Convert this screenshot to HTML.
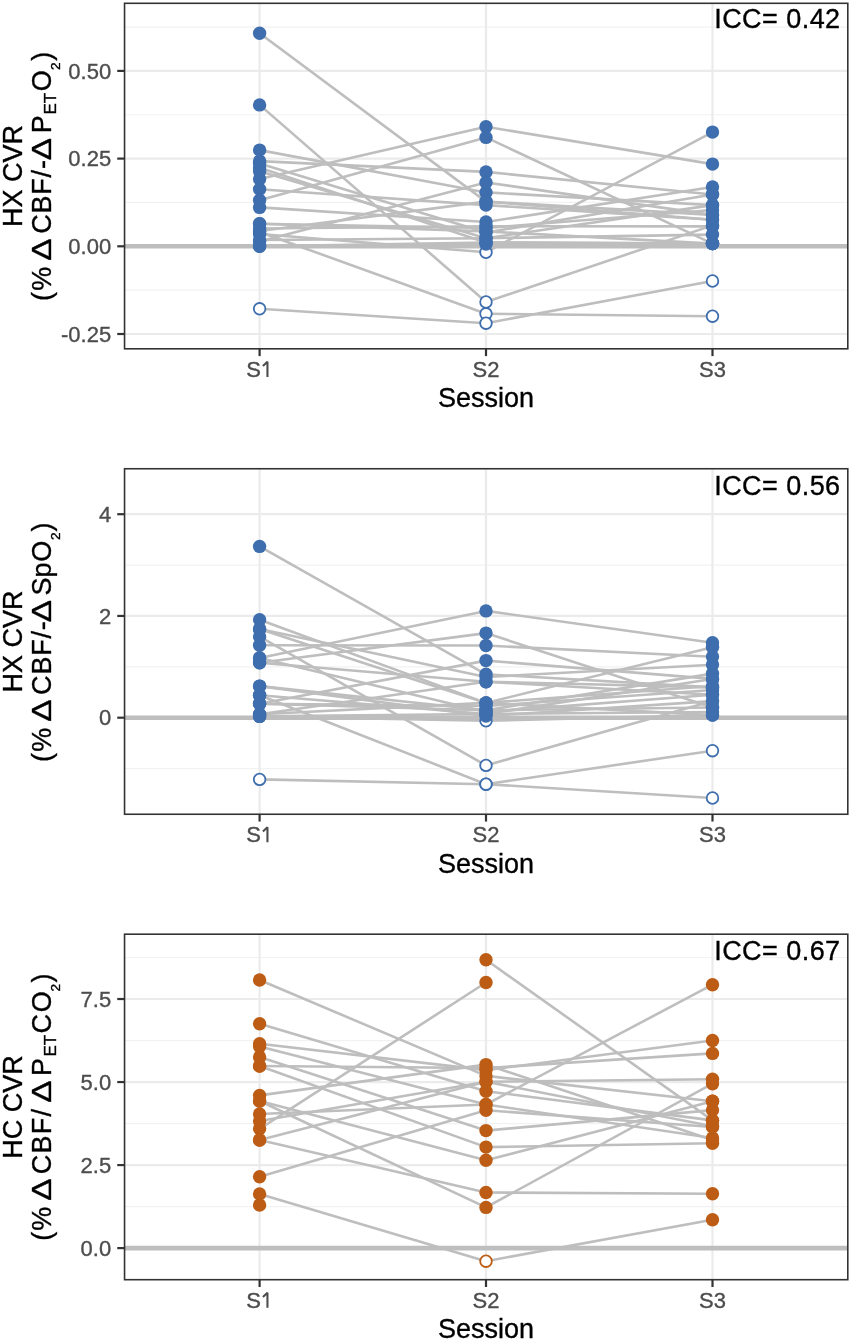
<!DOCTYPE html><html><head><meta charset="utf-8"><style>html,body{margin:0;padding:0;background:#fff;overflow:hidden}svg{display:block;will-change:transform}</style></head><body>
<svg width="851" height="1341" viewBox="0 0 851 1341" font-family='"Liberation Sans", sans-serif'>
<style>text{stroke-width:0.35px}</style>
<rect x="0" y="0" width="851" height="1341" fill="#fff"/>
<g>
<line x1="124.55" x2="847.8" y1="27.05" y2="27.05" stroke="#F2F2F2" stroke-width="1.2"/>
<line x1="124.55" x2="847.8" y1="114.75" y2="114.75" stroke="#F2F2F2" stroke-width="1.2"/>
<line x1="124.55" x2="847.8" y1="202.45" y2="202.45" stroke="#F2F2F2" stroke-width="1.2"/>
<line x1="124.55" x2="847.8" y1="290.15" y2="290.15" stroke="#F2F2F2" stroke-width="1.2"/>
<line x1="124.55" x2="847.8" y1="70.90" y2="70.90" stroke="#EBEBEB" stroke-width="2.2"/>
<line x1="124.55" x2="847.8" y1="158.60" y2="158.60" stroke="#EBEBEB" stroke-width="2.2"/>
<line x1="124.55" x2="847.8" y1="246.30" y2="246.30" stroke="#EBEBEB" stroke-width="2.2"/>
<line x1="124.55" x2="847.8" y1="334.00" y2="334.00" stroke="#EBEBEB" stroke-width="2.2"/>
<line x1="259.6" x2="259.6" y1="3.3" y2="348.8" stroke="#EBEBEB" stroke-width="2.2"/>
<line x1="486.0" x2="486.0" y1="3.3" y2="348.8" stroke="#EBEBEB" stroke-width="2.2"/>
<line x1="712.5" x2="712.5" y1="3.3" y2="348.8" stroke="#EBEBEB" stroke-width="2.2"/>
<line x1="124.55" x2="847.8" y1="246.30" y2="246.30" stroke="#BEBEBE" stroke-width="4.6"/>
<line x1="259.6" y1="33.19" x2="486.0" y2="201.61" stroke="#BEBEBE" stroke-width="2.6"/>
<line x1="486.0" y1="201.61" x2="712.5" y2="214.90" stroke="#BEBEBE" stroke-width="2.6"/>
<line x1="259.6" y1="104.89" x2="486.0" y2="302.01" stroke="#BEBEBE" stroke-width="2.6"/>
<line x1="486.0" y1="302.01" x2="712.5" y2="225.39" stroke="#BEBEBE" stroke-width="2.6"/>
<line x1="259.6" y1="150.11" x2="486.0" y2="192.42" stroke="#BEBEBE" stroke-width="2.6"/>
<line x1="486.0" y1="192.42" x2="712.5" y2="205.12" stroke="#BEBEBE" stroke-width="2.6"/>
<line x1="259.6" y1="161.09" x2="486.0" y2="171.90" stroke="#BEBEBE" stroke-width="2.6"/>
<line x1="486.0" y1="171.90" x2="712.5" y2="194.42" stroke="#BEBEBE" stroke-width="2.6"/>
<line x1="259.6" y1="163.51" x2="486.0" y2="232.58" stroke="#BEBEBE" stroke-width="2.6"/>
<line x1="486.0" y1="232.58" x2="712.5" y2="194.42" stroke="#BEBEBE" stroke-width="2.6"/>
<line x1="259.6" y1="167.69" x2="486.0" y2="242.51" stroke="#BEBEBE" stroke-width="2.6"/>
<line x1="486.0" y1="242.51" x2="712.5" y2="243.60" stroke="#BEBEBE" stroke-width="2.6"/>
<line x1="259.6" y1="171.30" x2="486.0" y2="238.20" stroke="#BEBEBE" stroke-width="2.6"/>
<line x1="486.0" y1="238.20" x2="712.5" y2="205.12" stroke="#BEBEBE" stroke-width="2.6"/>
<line x1="259.6" y1="178.91" x2="486.0" y2="126.82" stroke="#BEBEBE" stroke-width="2.6"/>
<line x1="486.0" y1="126.82" x2="712.5" y2="164.11" stroke="#BEBEBE" stroke-width="2.6"/>
<line x1="259.6" y1="189.30" x2="486.0" y2="205.12" stroke="#BEBEBE" stroke-width="2.6"/>
<line x1="486.0" y1="205.12" x2="712.5" y2="219.81" stroke="#BEBEBE" stroke-width="2.6"/>
<line x1="259.6" y1="200.31" x2="486.0" y2="137.41" stroke="#BEBEBE" stroke-width="2.6"/>
<line x1="486.0" y1="137.41" x2="712.5" y2="243.60" stroke="#BEBEBE" stroke-width="2.6"/>
<line x1="259.6" y1="207.40" x2="486.0" y2="221.99" stroke="#BEBEBE" stroke-width="2.6"/>
<line x1="486.0" y1="221.99" x2="712.5" y2="187.01" stroke="#BEBEBE" stroke-width="2.6"/>
<line x1="259.6" y1="223.71" x2="486.0" y2="227.99" stroke="#BEBEBE" stroke-width="2.6"/>
<line x1="486.0" y1="227.99" x2="712.5" y2="209.99" stroke="#BEBEBE" stroke-width="2.6"/>
<line x1="259.6" y1="231.01" x2="486.0" y2="201.61" stroke="#BEBEBE" stroke-width="2.6"/>
<line x1="486.0" y1="201.61" x2="712.5" y2="219.81" stroke="#BEBEBE" stroke-width="2.6"/>
<line x1="259.6" y1="231.99" x2="486.0" y2="313.79" stroke="#BEBEBE" stroke-width="2.6"/>
<line x1="486.0" y1="313.79" x2="712.5" y2="316.21" stroke="#BEBEBE" stroke-width="2.6"/>
<line x1="259.6" y1="241.49" x2="486.0" y2="182.49" stroke="#BEBEBE" stroke-width="2.6"/>
<line x1="486.0" y1="182.49" x2="712.5" y2="214.90" stroke="#BEBEBE" stroke-width="2.6"/>
<line x1="259.6" y1="246.19" x2="486.0" y2="242.51" stroke="#BEBEBE" stroke-width="2.6"/>
<line x1="486.0" y1="242.51" x2="712.5" y2="243.60" stroke="#BEBEBE" stroke-width="2.6"/>
<line x1="259.6" y1="308.81" x2="486.0" y2="323.20" stroke="#BEBEBE" stroke-width="2.6"/>
<line x1="486.0" y1="323.20" x2="712.5" y2="280.99" stroke="#BEBEBE" stroke-width="2.6"/>
<line x1="259.6" y1="233.99" x2="486.0" y2="252.30" stroke="#BEBEBE" stroke-width="2.6"/>
<line x1="486.0" y1="252.30" x2="712.5" y2="132.11" stroke="#BEBEBE" stroke-width="2.6"/>
<line x1="259.6" y1="228.51" x2="486.0" y2="226.20" stroke="#BEBEBE" stroke-width="2.6"/>
<line x1="486.0" y1="226.20" x2="712.5" y2="226.41" stroke="#BEBEBE" stroke-width="2.6"/>
<line x1="259.6" y1="239.99" x2="486.0" y2="238.20" stroke="#BEBEBE" stroke-width="2.6"/>
<line x1="486.0" y1="238.20" x2="712.5" y2="234.58" stroke="#BEBEBE" stroke-width="2.6"/>
<line x1="259.6" y1="223.71" x2="486.0" y2="231.39" stroke="#BEBEBE" stroke-width="2.6"/>
<line x1="486.0" y1="231.39" x2="712.5" y2="243.60" stroke="#BEBEBE" stroke-width="2.6"/>
<line x1="259.6" y1="246.19" x2="486.0" y2="243.98" stroke="#BEBEBE" stroke-width="2.6"/>
<line x1="486.0" y1="243.98" x2="712.5" y2="243.60" stroke="#BEBEBE" stroke-width="2.6"/>
<circle cx="259.6" cy="33.19" r="6.7" fill="#3E6EAD"/>
<circle cx="486.0" cy="201.61" r="6.7" fill="#3E6EAD"/>
<circle cx="712.5" cy="214.90" r="6.7" fill="#3E6EAD"/>
<circle cx="259.6" cy="104.89" r="6.7" fill="#3E6EAD"/>
<circle cx="486.0" cy="302.01" r="5.8" fill="#fff" stroke="#3E6EAD" stroke-width="1.8"/>
<circle cx="712.5" cy="225.39" r="6.7" fill="#3E6EAD"/>
<circle cx="259.6" cy="150.11" r="6.7" fill="#3E6EAD"/>
<circle cx="486.0" cy="192.42" r="6.7" fill="#3E6EAD"/>
<circle cx="712.5" cy="205.12" r="6.7" fill="#3E6EAD"/>
<circle cx="259.6" cy="161.09" r="6.7" fill="#3E6EAD"/>
<circle cx="486.0" cy="171.90" r="6.7" fill="#3E6EAD"/>
<circle cx="712.5" cy="194.42" r="6.7" fill="#3E6EAD"/>
<circle cx="259.6" cy="163.51" r="6.7" fill="#3E6EAD"/>
<circle cx="486.0" cy="232.58" r="6.7" fill="#3E6EAD"/>
<circle cx="712.5" cy="194.42" r="6.7" fill="#3E6EAD"/>
<circle cx="259.6" cy="167.69" r="6.7" fill="#3E6EAD"/>
<circle cx="486.0" cy="242.51" r="6.7" fill="#3E6EAD"/>
<circle cx="712.5" cy="243.60" r="6.7" fill="#3E6EAD"/>
<circle cx="259.6" cy="171.30" r="6.7" fill="#3E6EAD"/>
<circle cx="486.0" cy="238.20" r="6.7" fill="#3E6EAD"/>
<circle cx="712.5" cy="205.12" r="6.7" fill="#3E6EAD"/>
<circle cx="259.6" cy="178.91" r="6.7" fill="#3E6EAD"/>
<circle cx="486.0" cy="126.82" r="6.7" fill="#3E6EAD"/>
<circle cx="712.5" cy="164.11" r="6.7" fill="#3E6EAD"/>
<circle cx="259.6" cy="189.30" r="6.7" fill="#3E6EAD"/>
<circle cx="486.0" cy="205.12" r="6.7" fill="#3E6EAD"/>
<circle cx="712.5" cy="219.81" r="6.7" fill="#3E6EAD"/>
<circle cx="259.6" cy="200.31" r="6.7" fill="#3E6EAD"/>
<circle cx="486.0" cy="137.41" r="6.7" fill="#3E6EAD"/>
<circle cx="712.5" cy="243.60" r="6.7" fill="#3E6EAD"/>
<circle cx="259.6" cy="207.40" r="6.7" fill="#3E6EAD"/>
<circle cx="486.0" cy="221.99" r="6.7" fill="#3E6EAD"/>
<circle cx="712.5" cy="187.01" r="6.7" fill="#3E6EAD"/>
<circle cx="259.6" cy="223.71" r="6.7" fill="#3E6EAD"/>
<circle cx="486.0" cy="227.99" r="6.7" fill="#3E6EAD"/>
<circle cx="712.5" cy="209.99" r="6.7" fill="#3E6EAD"/>
<circle cx="259.6" cy="231.01" r="6.7" fill="#3E6EAD"/>
<circle cx="486.0" cy="201.61" r="6.7" fill="#3E6EAD"/>
<circle cx="712.5" cy="219.81" r="6.7" fill="#3E6EAD"/>
<circle cx="259.6" cy="231.99" r="6.7" fill="#3E6EAD"/>
<circle cx="486.0" cy="313.79" r="5.8" fill="#fff" stroke="#3E6EAD" stroke-width="1.8"/>
<circle cx="712.5" cy="316.21" r="5.8" fill="#fff" stroke="#3E6EAD" stroke-width="1.8"/>
<circle cx="259.6" cy="241.49" r="6.7" fill="#3E6EAD"/>
<circle cx="486.0" cy="182.49" r="6.7" fill="#3E6EAD"/>
<circle cx="712.5" cy="214.90" r="6.7" fill="#3E6EAD"/>
<circle cx="259.6" cy="246.19" r="6.7" fill="#3E6EAD"/>
<circle cx="486.0" cy="242.51" r="6.7" fill="#3E6EAD"/>
<circle cx="712.5" cy="243.60" r="6.7" fill="#3E6EAD"/>
<circle cx="259.6" cy="308.81" r="5.8" fill="#fff" stroke="#3E6EAD" stroke-width="1.8"/>
<circle cx="486.0" cy="323.20" r="5.8" fill="#fff" stroke="#3E6EAD" stroke-width="1.8"/>
<circle cx="712.5" cy="280.99" r="5.8" fill="#fff" stroke="#3E6EAD" stroke-width="1.8"/>
<circle cx="259.6" cy="233.99" r="6.7" fill="#3E6EAD"/>
<circle cx="486.0" cy="252.30" r="5.8" fill="#fff" stroke="#3E6EAD" stroke-width="1.8"/>
<circle cx="712.5" cy="132.11" r="6.7" fill="#3E6EAD"/>
<circle cx="259.6" cy="228.51" r="6.7" fill="#3E6EAD"/>
<circle cx="486.0" cy="226.20" r="6.7" fill="#3E6EAD"/>
<circle cx="712.5" cy="226.41" r="6.7" fill="#3E6EAD"/>
<circle cx="259.6" cy="239.99" r="6.7" fill="#3E6EAD"/>
<circle cx="486.0" cy="238.20" r="6.7" fill="#3E6EAD"/>
<circle cx="712.5" cy="234.58" r="6.7" fill="#3E6EAD"/>
<circle cx="259.6" cy="223.71" r="6.7" fill="#3E6EAD"/>
<circle cx="486.0" cy="231.39" r="6.7" fill="#3E6EAD"/>
<circle cx="712.5" cy="243.60" r="6.7" fill="#3E6EAD"/>
<circle cx="259.6" cy="246.19" r="6.7" fill="#3E6EAD"/>
<circle cx="486.0" cy="243.98" r="6.7" fill="#3E6EAD"/>
<circle cx="712.5" cy="243.60" r="6.7" fill="#3E6EAD"/>
<rect x="124.55" y="3.3" width="723.25" height="345.50" fill="none" stroke="#333" stroke-width="1.6"/>
<line x1="117.25" x2="124.55" y1="70.90" y2="70.90" stroke="#333" stroke-width="2.2"/>
<text x="111.2" y="78.50" font-size="22" fill="#4D4D4D" stroke="#4D4D4D" text-anchor="end">0.50</text>
<line x1="117.25" x2="124.55" y1="158.60" y2="158.60" stroke="#333" stroke-width="2.2"/>
<text x="111.2" y="166.20" font-size="22" fill="#4D4D4D" stroke="#4D4D4D" text-anchor="end">0.25</text>
<line x1="117.25" x2="124.55" y1="246.30" y2="246.30" stroke="#333" stroke-width="2.2"/>
<text x="111.2" y="253.90" font-size="22" fill="#4D4D4D" stroke="#4D4D4D" text-anchor="end">0.00</text>
<line x1="117.25" x2="124.55" y1="334.00" y2="334.00" stroke="#333" stroke-width="2.2"/>
<text x="111.2" y="341.60" font-size="22" fill="#4D4D4D" stroke="#4D4D4D" text-anchor="end">-0.25</text>
<line x1="259.6" x2="259.6" y1="348.8" y2="356.10" stroke="#333" stroke-width="2.2"/>
<text x="246.2" y="376.60" font-size="22" fill="#4D4D4D" stroke="#4D4D4D">S</text>
<path d="M267.45 376.90 V361.80 L262.9 366.00" stroke="#4D4D4D" stroke-width="2.1" fill="none" stroke-linejoin="bevel"/>
<line x1="486.0" x2="486.0" y1="348.8" y2="356.10" stroke="#333" stroke-width="2.2"/>
<text x="486.0" y="376.60" font-size="22" fill="#4D4D4D" stroke="#4D4D4D" text-anchor="middle">S2</text>
<line x1="712.5" x2="712.5" y1="348.8" y2="356.10" stroke="#333" stroke-width="2.2"/>
<text x="712.5" y="376.60" font-size="22" fill="#4D4D4D" stroke="#4D4D4D" text-anchor="middle">S3</text>
<text x="486" y="407.30" font-size="27" fill="#000" stroke="#000" text-anchor="middle">Session</text>
<text x="840.6" y="28.40" font-size="27" fill="#000" stroke="#000" text-anchor="end" letter-spacing="0.45">ICC= 0.42</text>
<text transform="translate(22.3,176.05) rotate(-90)" font-size="27" stroke="#000" text-anchor="middle">HX CVR</text>
<text transform="translate(51.0,301.00) rotate(-90)" font-size="27" stroke="#000">(</text>
<text transform="translate(51.0,290.80) rotate(-90)" font-size="27" stroke="#000">%</text>
<text transform="translate(51.0,260.83) rotate(-90) scale(1.23,1)" font-size="27" stroke="#000">Δ</text>
<text transform="translate(51.0,233.80) rotate(-90)" font-size="27" stroke="#000" letter-spacing="0.8">CBF/-</text>
<text transform="translate(51.0,160.23) rotate(-90) scale(1.23,1)" font-size="27" stroke="#000">Δ</text>
<text transform="translate(51.0,133.30) rotate(-90)" font-size="27" stroke="#000">P</text>
<text transform="translate(56.0,114.60) rotate(-90)" font-size="17" stroke="#000">ET</text>
<text transform="translate(51.0,91.30) rotate(-90)" font-size="27" stroke="#000">O</text>
<text transform="translate(60.0,70.10) rotate(-90)" font-size="13.7" stroke="#000">2</text>
<text transform="translate(51.0,60.80) rotate(-90)" font-size="27" stroke="#000">)</text>
</g>
<g>
<line x1="124.55" x2="847.8" y1="565.08" y2="565.08" stroke="#F2F2F2" stroke-width="1.2"/>
<line x1="124.55" x2="847.8" y1="666.83" y2="666.83" stroke="#F2F2F2" stroke-width="1.2"/>
<line x1="124.55" x2="847.8" y1="768.58" y2="768.58" stroke="#F2F2F2" stroke-width="1.2"/>
<line x1="124.55" x2="847.8" y1="514.20" y2="514.20" stroke="#EBEBEB" stroke-width="2.2"/>
<line x1="124.55" x2="847.8" y1="615.95" y2="615.95" stroke="#EBEBEB" stroke-width="2.2"/>
<line x1="124.55" x2="847.8" y1="717.70" y2="717.70" stroke="#EBEBEB" stroke-width="2.2"/>
<line x1="259.6" x2="259.6" y1="468.75" y2="814.25" stroke="#EBEBEB" stroke-width="2.2"/>
<line x1="486.0" x2="486.0" y1="468.75" y2="814.25" stroke="#EBEBEB" stroke-width="2.2"/>
<line x1="712.5" x2="712.5" y1="468.75" y2="814.25" stroke="#EBEBEB" stroke-width="2.2"/>
<line x1="124.55" x2="847.8" y1="717.70" y2="717.70" stroke="#BEBEBE" stroke-width="4.6"/>
<line x1="259.6" y1="546.40" x2="486.0" y2="674.30" stroke="#BEBEBE" stroke-width="2.6"/>
<line x1="486.0" y1="674.30" x2="712.5" y2="687.40" stroke="#BEBEBE" stroke-width="2.6"/>
<line x1="259.6" y1="657.90" x2="486.0" y2="610.90" stroke="#BEBEBE" stroke-width="2.6"/>
<line x1="486.0" y1="610.90" x2="712.5" y2="642.80" stroke="#BEBEBE" stroke-width="2.6"/>
<line x1="259.6" y1="662.80" x2="486.0" y2="633.10" stroke="#BEBEBE" stroke-width="2.6"/>
<line x1="486.0" y1="633.10" x2="712.5" y2="707.50" stroke="#BEBEBE" stroke-width="2.6"/>
<line x1="259.6" y1="645.20" x2="486.0" y2="645.50" stroke="#BEBEBE" stroke-width="2.6"/>
<line x1="486.0" y1="645.50" x2="712.5" y2="656.70" stroke="#BEBEBE" stroke-width="2.6"/>
<line x1="259.6" y1="703.70" x2="486.0" y2="660.60" stroke="#BEBEBE" stroke-width="2.6"/>
<line x1="486.0" y1="660.60" x2="712.5" y2="678.90" stroke="#BEBEBE" stroke-width="2.6"/>
<line x1="259.6" y1="629.00" x2="486.0" y2="677.00" stroke="#BEBEBE" stroke-width="2.6"/>
<line x1="486.0" y1="677.00" x2="712.5" y2="664.70" stroke="#BEBEBE" stroke-width="2.6"/>
<line x1="259.6" y1="662.80" x2="486.0" y2="681.70" stroke="#BEBEBE" stroke-width="2.6"/>
<line x1="486.0" y1="681.70" x2="712.5" y2="694.80" stroke="#BEBEBE" stroke-width="2.6"/>
<line x1="259.6" y1="714.30" x2="486.0" y2="681.70" stroke="#BEBEBE" stroke-width="2.6"/>
<line x1="486.0" y1="681.70" x2="712.5" y2="687.40" stroke="#BEBEBE" stroke-width="2.6"/>
<line x1="259.6" y1="636.70" x2="486.0" y2="765.40" stroke="#BEBEBE" stroke-width="2.6"/>
<line x1="486.0" y1="765.40" x2="712.5" y2="701.10" stroke="#BEBEBE" stroke-width="2.6"/>
<line x1="259.6" y1="695.30" x2="486.0" y2="784.20" stroke="#BEBEBE" stroke-width="2.6"/>
<line x1="486.0" y1="784.20" x2="712.5" y2="750.70" stroke="#BEBEBE" stroke-width="2.6"/>
<line x1="259.6" y1="779.40" x2="486.0" y2="784.20" stroke="#BEBEBE" stroke-width="2.6"/>
<line x1="486.0" y1="784.20" x2="712.5" y2="798.00" stroke="#BEBEBE" stroke-width="2.6"/>
<line x1="259.6" y1="619.80" x2="486.0" y2="702.90" stroke="#BEBEBE" stroke-width="2.6"/>
<line x1="486.0" y1="702.90" x2="712.5" y2="715.10" stroke="#BEBEBE" stroke-width="2.6"/>
<line x1="259.6" y1="686.10" x2="486.0" y2="710.30" stroke="#BEBEBE" stroke-width="2.6"/>
<line x1="486.0" y1="710.30" x2="712.5" y2="673.60" stroke="#BEBEBE" stroke-width="2.6"/>
<line x1="259.6" y1="716.40" x2="486.0" y2="720.80" stroke="#BEBEBE" stroke-width="2.6"/>
<line x1="486.0" y1="720.80" x2="712.5" y2="715.10" stroke="#BEBEBE" stroke-width="2.6"/>
<line x1="259.6" y1="714.30" x2="486.0" y2="702.90" stroke="#BEBEBE" stroke-width="2.6"/>
<line x1="486.0" y1="702.90" x2="712.5" y2="647.20" stroke="#BEBEBE" stroke-width="2.6"/>
<line x1="259.6" y1="703.70" x2="486.0" y2="710.30" stroke="#BEBEBE" stroke-width="2.6"/>
<line x1="486.0" y1="710.30" x2="712.5" y2="707.50" stroke="#BEBEBE" stroke-width="2.6"/>
<line x1="259.6" y1="716.40" x2="486.0" y2="714.00" stroke="#BEBEBE" stroke-width="2.6"/>
<line x1="486.0" y1="714.00" x2="712.5" y2="712.00" stroke="#BEBEBE" stroke-width="2.6"/>
<line x1="259.6" y1="703.70" x2="486.0" y2="706.00" stroke="#BEBEBE" stroke-width="2.6"/>
<line x1="486.0" y1="706.00" x2="712.5" y2="690.00" stroke="#BEBEBE" stroke-width="2.6"/>
<line x1="259.6" y1="695.30" x2="486.0" y2="714.00" stroke="#BEBEBE" stroke-width="2.6"/>
<line x1="486.0" y1="714.00" x2="712.5" y2="679.00" stroke="#BEBEBE" stroke-width="2.6"/>
<line x1="259.6" y1="686.10" x2="486.0" y2="716.00" stroke="#BEBEBE" stroke-width="2.6"/>
<line x1="486.0" y1="716.00" x2="712.5" y2="701.10" stroke="#BEBEBE" stroke-width="2.6"/>
<line x1="259.6" y1="657.90" x2="486.0" y2="712.00" stroke="#BEBEBE" stroke-width="2.6"/>
<line x1="486.0" y1="712.00" x2="712.5" y2="694.80" stroke="#BEBEBE" stroke-width="2.6"/>
<line x1="259.6" y1="629.00" x2="486.0" y2="702.90" stroke="#BEBEBE" stroke-width="2.6"/>
<line x1="486.0" y1="702.90" x2="712.5" y2="686.00" stroke="#BEBEBE" stroke-width="2.6"/>
<circle cx="259.6" cy="546.40" r="6.7" fill="#3E6EAD"/>
<circle cx="486.0" cy="674.30" r="6.7" fill="#3E6EAD"/>
<circle cx="712.5" cy="687.40" r="6.7" fill="#3E6EAD"/>
<circle cx="259.6" cy="657.90" r="6.7" fill="#3E6EAD"/>
<circle cx="486.0" cy="610.90" r="6.7" fill="#3E6EAD"/>
<circle cx="712.5" cy="642.80" r="6.7" fill="#3E6EAD"/>
<circle cx="259.6" cy="662.80" r="6.7" fill="#3E6EAD"/>
<circle cx="486.0" cy="633.10" r="6.7" fill="#3E6EAD"/>
<circle cx="712.5" cy="707.50" r="6.7" fill="#3E6EAD"/>
<circle cx="259.6" cy="645.20" r="6.7" fill="#3E6EAD"/>
<circle cx="486.0" cy="645.50" r="6.7" fill="#3E6EAD"/>
<circle cx="712.5" cy="656.70" r="6.7" fill="#3E6EAD"/>
<circle cx="259.6" cy="703.70" r="6.7" fill="#3E6EAD"/>
<circle cx="486.0" cy="660.60" r="6.7" fill="#3E6EAD"/>
<circle cx="712.5" cy="678.90" r="6.7" fill="#3E6EAD"/>
<circle cx="259.6" cy="629.00" r="6.7" fill="#3E6EAD"/>
<circle cx="486.0" cy="677.00" r="6.7" fill="#3E6EAD"/>
<circle cx="712.5" cy="664.70" r="6.7" fill="#3E6EAD"/>
<circle cx="259.6" cy="662.80" r="6.7" fill="#3E6EAD"/>
<circle cx="486.0" cy="681.70" r="6.7" fill="#3E6EAD"/>
<circle cx="712.5" cy="694.80" r="6.7" fill="#3E6EAD"/>
<circle cx="259.6" cy="714.30" r="6.7" fill="#3E6EAD"/>
<circle cx="486.0" cy="681.70" r="6.7" fill="#3E6EAD"/>
<circle cx="712.5" cy="687.40" r="6.7" fill="#3E6EAD"/>
<circle cx="259.6" cy="636.70" r="6.7" fill="#3E6EAD"/>
<circle cx="486.0" cy="765.40" r="5.8" fill="#fff" stroke="#3E6EAD" stroke-width="1.8"/>
<circle cx="712.5" cy="701.10" r="6.7" fill="#3E6EAD"/>
<circle cx="259.6" cy="695.30" r="6.7" fill="#3E6EAD"/>
<circle cx="486.0" cy="784.20" r="5.8" fill="#fff" stroke="#3E6EAD" stroke-width="1.8"/>
<circle cx="712.5" cy="750.70" r="5.8" fill="#fff" stroke="#3E6EAD" stroke-width="1.8"/>
<circle cx="259.6" cy="779.40" r="5.8" fill="#fff" stroke="#3E6EAD" stroke-width="1.8"/>
<circle cx="486.0" cy="784.20" r="5.8" fill="#fff" stroke="#3E6EAD" stroke-width="1.8"/>
<circle cx="712.5" cy="798.00" r="5.8" fill="#fff" stroke="#3E6EAD" stroke-width="1.8"/>
<circle cx="259.6" cy="619.80" r="6.7" fill="#3E6EAD"/>
<circle cx="486.0" cy="702.90" r="6.7" fill="#3E6EAD"/>
<circle cx="712.5" cy="715.10" r="6.7" fill="#3E6EAD"/>
<circle cx="259.6" cy="686.10" r="6.7" fill="#3E6EAD"/>
<circle cx="486.0" cy="710.30" r="6.7" fill="#3E6EAD"/>
<circle cx="712.5" cy="673.60" r="6.7" fill="#3E6EAD"/>
<circle cx="259.6" cy="716.40" r="6.7" fill="#3E6EAD"/>
<circle cx="486.0" cy="720.80" r="5.8" fill="#fff" stroke="#3E6EAD" stroke-width="1.8"/>
<circle cx="712.5" cy="715.10" r="6.7" fill="#3E6EAD"/>
<circle cx="259.6" cy="714.30" r="6.7" fill="#3E6EAD"/>
<circle cx="486.0" cy="702.90" r="6.7" fill="#3E6EAD"/>
<circle cx="712.5" cy="647.20" r="6.7" fill="#3E6EAD"/>
<circle cx="259.6" cy="703.70" r="6.7" fill="#3E6EAD"/>
<circle cx="486.0" cy="710.30" r="6.7" fill="#3E6EAD"/>
<circle cx="712.5" cy="707.50" r="6.7" fill="#3E6EAD"/>
<circle cx="259.6" cy="716.40" r="6.7" fill="#3E6EAD"/>
<circle cx="486.0" cy="714.00" r="6.7" fill="#3E6EAD"/>
<circle cx="712.5" cy="712.00" r="6.7" fill="#3E6EAD"/>
<circle cx="259.6" cy="703.70" r="6.7" fill="#3E6EAD"/>
<circle cx="486.0" cy="706.00" r="6.7" fill="#3E6EAD"/>
<circle cx="712.5" cy="690.00" r="6.7" fill="#3E6EAD"/>
<circle cx="259.6" cy="695.30" r="6.7" fill="#3E6EAD"/>
<circle cx="486.0" cy="714.00" r="6.7" fill="#3E6EAD"/>
<circle cx="712.5" cy="679.00" r="6.7" fill="#3E6EAD"/>
<circle cx="259.6" cy="686.10" r="6.7" fill="#3E6EAD"/>
<circle cx="486.0" cy="716.00" r="6.7" fill="#3E6EAD"/>
<circle cx="712.5" cy="701.10" r="6.7" fill="#3E6EAD"/>
<circle cx="259.6" cy="657.90" r="6.7" fill="#3E6EAD"/>
<circle cx="486.0" cy="712.00" r="6.7" fill="#3E6EAD"/>
<circle cx="712.5" cy="694.80" r="6.7" fill="#3E6EAD"/>
<circle cx="259.6" cy="629.00" r="6.7" fill="#3E6EAD"/>
<circle cx="486.0" cy="702.90" r="6.7" fill="#3E6EAD"/>
<circle cx="712.5" cy="686.00" r="6.7" fill="#3E6EAD"/>
<rect x="124.55" y="468.75" width="723.25" height="345.50" fill="none" stroke="#333" stroke-width="1.6"/>
<line x1="117.25" x2="124.55" y1="514.20" y2="514.20" stroke="#333" stroke-width="2.2"/>
<text x="111.2" y="521.80" font-size="22" fill="#4D4D4D" stroke="#4D4D4D" text-anchor="end">4</text>
<line x1="117.25" x2="124.55" y1="615.95" y2="615.95" stroke="#333" stroke-width="2.2"/>
<text x="111.2" y="623.55" font-size="22" fill="#4D4D4D" stroke="#4D4D4D" text-anchor="end">2</text>
<line x1="117.25" x2="124.55" y1="717.70" y2="717.70" stroke="#333" stroke-width="2.2"/>
<text x="111.2" y="725.30" font-size="22" fill="#4D4D4D" stroke="#4D4D4D" text-anchor="end">0</text>
<line x1="259.6" x2="259.6" y1="814.25" y2="821.55" stroke="#333" stroke-width="2.2"/>
<text x="246.2" y="842.05" font-size="22" fill="#4D4D4D" stroke="#4D4D4D">S</text>
<path d="M267.45 842.35 V827.25 L262.9 831.45" stroke="#4D4D4D" stroke-width="2.1" fill="none" stroke-linejoin="bevel"/>
<line x1="486.0" x2="486.0" y1="814.25" y2="821.55" stroke="#333" stroke-width="2.2"/>
<text x="486.0" y="842.05" font-size="22" fill="#4D4D4D" stroke="#4D4D4D" text-anchor="middle">S2</text>
<line x1="712.5" x2="712.5" y1="814.25" y2="821.55" stroke="#333" stroke-width="2.2"/>
<text x="712.5" y="842.05" font-size="22" fill="#4D4D4D" stroke="#4D4D4D" text-anchor="middle">S3</text>
<text x="486" y="872.75" font-size="27" fill="#000" stroke="#000" text-anchor="middle">Session</text>
<text x="840.6" y="494.60" font-size="27" fill="#000" stroke="#000" text-anchor="end" letter-spacing="0.45">ICC= 0.56</text>
<text transform="translate(22.3,641.50) rotate(-90)" font-size="27" stroke="#000" text-anchor="middle">HX CVR</text>
<text transform="translate(51.0,762.00) rotate(-90)" font-size="27" stroke="#000">(</text>
<text transform="translate(51.0,751.80) rotate(-90)" font-size="27" stroke="#000">%</text>
<text transform="translate(51.0,721.63) rotate(-90) scale(1.23,1)" font-size="27" stroke="#000">Δ</text>
<text transform="translate(51.0,694.90) rotate(-90)" font-size="27" stroke="#000" letter-spacing="0.8">CBF/-</text>
<text transform="translate(51.0,622.23) rotate(-90) scale(1.23,1)" font-size="27" stroke="#000">Δ</text>
<text transform="translate(51.0,595.60) rotate(-90)" font-size="27" stroke="#000">S</text>
<text transform="translate(51.0,577.60) rotate(-90)" font-size="27" stroke="#000">p</text>
<text transform="translate(51.0,561.70) rotate(-90)" font-size="27" stroke="#000">O</text>
<text transform="translate(60.3,540.00) rotate(-90)" font-size="13.7" stroke="#000">2</text>
<text transform="translate(51.0,531.40) rotate(-90)" font-size="27" stroke="#000">)</text>
</g>
<g>
<line x1="124.55" x2="847.8" y1="957.51" y2="957.51" stroke="#F2F2F2" stroke-width="1.2"/>
<line x1="124.55" x2="847.8" y1="1040.54" y2="1040.54" stroke="#F2F2F2" stroke-width="1.2"/>
<line x1="124.55" x2="847.8" y1="1123.56" y2="1123.56" stroke="#F2F2F2" stroke-width="1.2"/>
<line x1="124.55" x2="847.8" y1="1206.59" y2="1206.59" stroke="#F2F2F2" stroke-width="1.2"/>
<line x1="124.55" x2="847.8" y1="999.02" y2="999.02" stroke="#EBEBEB" stroke-width="2.2"/>
<line x1="124.55" x2="847.8" y1="1082.05" y2="1082.05" stroke="#EBEBEB" stroke-width="2.2"/>
<line x1="124.55" x2="847.8" y1="1165.07" y2="1165.07" stroke="#EBEBEB" stroke-width="2.2"/>
<line x1="124.55" x2="847.8" y1="1248.10" y2="1248.10" stroke="#EBEBEB" stroke-width="2.2"/>
<line x1="259.6" x2="259.6" y1="934.1999999999999" y2="1279.7" stroke="#EBEBEB" stroke-width="2.2"/>
<line x1="486.0" x2="486.0" y1="934.1999999999999" y2="1279.7" stroke="#EBEBEB" stroke-width="2.2"/>
<line x1="712.5" x2="712.5" y1="934.1999999999999" y2="1279.7" stroke="#EBEBEB" stroke-width="2.2"/>
<line x1="124.55" x2="847.8" y1="1248.10" y2="1248.10" stroke="#BEBEBE" stroke-width="4.6"/>
<line x1="259.6" y1="980.00" x2="486.0" y2="1075.90" stroke="#BEBEBE" stroke-width="2.6"/>
<line x1="486.0" y1="1075.90" x2="712.5" y2="1101.30" stroke="#BEBEBE" stroke-width="2.6"/>
<line x1="259.6" y1="1023.80" x2="486.0" y2="1091.20" stroke="#BEBEBE" stroke-width="2.6"/>
<line x1="486.0" y1="1091.20" x2="712.5" y2="1120.40" stroke="#BEBEBE" stroke-width="2.6"/>
<line x1="259.6" y1="1043.70" x2="486.0" y2="1070.10" stroke="#BEBEBE" stroke-width="2.6"/>
<line x1="486.0" y1="1070.10" x2="712.5" y2="1040.50" stroke="#BEBEBE" stroke-width="2.6"/>
<line x1="259.6" y1="1046.50" x2="486.0" y2="1104.50" stroke="#BEBEBE" stroke-width="2.6"/>
<line x1="486.0" y1="1104.50" x2="712.5" y2="984.70" stroke="#BEBEBE" stroke-width="2.6"/>
<line x1="259.6" y1="1057.00" x2="486.0" y2="1130.60" stroke="#BEBEBE" stroke-width="2.6"/>
<line x1="486.0" y1="1130.60" x2="712.5" y2="1110.10" stroke="#BEBEBE" stroke-width="2.6"/>
<line x1="259.6" y1="1066.00" x2="486.0" y2="1068.00" stroke="#BEBEBE" stroke-width="2.6"/>
<line x1="486.0" y1="1068.00" x2="712.5" y2="1053.40" stroke="#BEBEBE" stroke-width="2.6"/>
<line x1="259.6" y1="1066.00" x2="486.0" y2="1147.10" stroke="#BEBEBE" stroke-width="2.6"/>
<line x1="486.0" y1="1147.10" x2="712.5" y2="1143.30" stroke="#BEBEBE" stroke-width="2.6"/>
<line x1="259.6" y1="1095.40" x2="486.0" y2="1064.60" stroke="#BEBEBE" stroke-width="2.6"/>
<line x1="486.0" y1="1064.60" x2="712.5" y2="1140.00" stroke="#BEBEBE" stroke-width="2.6"/>
<line x1="259.6" y1="1101.00" x2="486.0" y2="1160.30" stroke="#BEBEBE" stroke-width="2.6"/>
<line x1="486.0" y1="1160.30" x2="712.5" y2="1101.30" stroke="#BEBEBE" stroke-width="2.6"/>
<line x1="259.6" y1="1101.00" x2="486.0" y2="1207.40" stroke="#BEBEBE" stroke-width="2.6"/>
<line x1="486.0" y1="1207.40" x2="712.5" y2="1083.70" stroke="#BEBEBE" stroke-width="2.6"/>
<line x1="259.6" y1="1114.00" x2="486.0" y2="1104.50" stroke="#BEBEBE" stroke-width="2.6"/>
<line x1="486.0" y1="1104.50" x2="712.5" y2="1138.00" stroke="#BEBEBE" stroke-width="2.6"/>
<line x1="259.6" y1="1121.00" x2="486.0" y2="1081.70" stroke="#BEBEBE" stroke-width="2.6"/>
<line x1="486.0" y1="1081.70" x2="712.5" y2="1126.30" stroke="#BEBEBE" stroke-width="2.6"/>
<line x1="259.6" y1="1128.80" x2="486.0" y2="982.50" stroke="#BEBEBE" stroke-width="2.6"/>
<line x1="259.6" y1="1140.00" x2="486.0" y2="1081.70" stroke="#BEBEBE" stroke-width="2.6"/>
<line x1="486.0" y1="1081.70" x2="712.5" y2="1079.30" stroke="#BEBEBE" stroke-width="2.6"/>
<line x1="259.6" y1="1140.00" x2="486.0" y2="1192.50" stroke="#BEBEBE" stroke-width="2.6"/>
<line x1="486.0" y1="1192.50" x2="712.5" y2="1193.80" stroke="#BEBEBE" stroke-width="2.6"/>
<line x1="259.6" y1="1176.80" x2="486.0" y2="1110.30" stroke="#BEBEBE" stroke-width="2.6"/>
<line x1="486.0" y1="1110.30" x2="712.5" y2="1127.00" stroke="#BEBEBE" stroke-width="2.6"/>
<line x1="259.6" y1="1194.00" x2="486.0" y2="1261.20" stroke="#BEBEBE" stroke-width="2.6"/>
<line x1="486.0" y1="1261.20" x2="712.5" y2="1219.70" stroke="#BEBEBE" stroke-width="2.6"/>
<line x1="486.0" y1="959.80" x2="712.5" y2="1120.40" stroke="#BEBEBE" stroke-width="2.6"/>
<circle cx="259.6" cy="980.00" r="6.7" fill="#BD5D15"/>
<circle cx="486.0" cy="1075.90" r="6.7" fill="#BD5D15"/>
<circle cx="712.5" cy="1101.30" r="6.7" fill="#BD5D15"/>
<circle cx="259.6" cy="1023.80" r="6.7" fill="#BD5D15"/>
<circle cx="486.0" cy="1091.20" r="6.7" fill="#BD5D15"/>
<circle cx="712.5" cy="1120.40" r="6.7" fill="#BD5D15"/>
<circle cx="259.6" cy="1043.70" r="6.7" fill="#BD5D15"/>
<circle cx="486.0" cy="1070.10" r="6.7" fill="#BD5D15"/>
<circle cx="712.5" cy="1040.50" r="6.7" fill="#BD5D15"/>
<circle cx="259.6" cy="1046.50" r="6.7" fill="#BD5D15"/>
<circle cx="486.0" cy="1104.50" r="6.7" fill="#BD5D15"/>
<circle cx="712.5" cy="984.70" r="6.7" fill="#BD5D15"/>
<circle cx="259.6" cy="1057.00" r="6.7" fill="#BD5D15"/>
<circle cx="486.0" cy="1130.60" r="6.7" fill="#BD5D15"/>
<circle cx="712.5" cy="1110.10" r="6.7" fill="#BD5D15"/>
<circle cx="259.6" cy="1066.00" r="6.7" fill="#BD5D15"/>
<circle cx="486.0" cy="1068.00" r="6.7" fill="#BD5D15"/>
<circle cx="712.5" cy="1053.40" r="6.7" fill="#BD5D15"/>
<circle cx="259.6" cy="1066.00" r="6.7" fill="#BD5D15"/>
<circle cx="486.0" cy="1147.10" r="6.7" fill="#BD5D15"/>
<circle cx="712.5" cy="1143.30" r="6.7" fill="#BD5D15"/>
<circle cx="259.6" cy="1095.40" r="6.7" fill="#BD5D15"/>
<circle cx="486.0" cy="1064.60" r="6.7" fill="#BD5D15"/>
<circle cx="712.5" cy="1140.00" r="6.7" fill="#BD5D15"/>
<circle cx="259.6" cy="1101.00" r="6.7" fill="#BD5D15"/>
<circle cx="486.0" cy="1160.30" r="6.7" fill="#BD5D15"/>
<circle cx="712.5" cy="1101.30" r="6.7" fill="#BD5D15"/>
<circle cx="259.6" cy="1101.00" r="6.7" fill="#BD5D15"/>
<circle cx="486.0" cy="1207.40" r="6.7" fill="#BD5D15"/>
<circle cx="712.5" cy="1083.70" r="6.7" fill="#BD5D15"/>
<circle cx="259.6" cy="1114.00" r="6.7" fill="#BD5D15"/>
<circle cx="486.0" cy="1104.50" r="6.7" fill="#BD5D15"/>
<circle cx="712.5" cy="1138.00" r="6.7" fill="#BD5D15"/>
<circle cx="259.6" cy="1121.00" r="6.7" fill="#BD5D15"/>
<circle cx="486.0" cy="1081.70" r="6.7" fill="#BD5D15"/>
<circle cx="712.5" cy="1126.30" r="6.7" fill="#BD5D15"/>
<circle cx="259.6" cy="1128.80" r="6.7" fill="#BD5D15"/>
<circle cx="486.0" cy="982.50" r="6.7" fill="#BD5D15"/>
<circle cx="259.6" cy="1140.00" r="6.7" fill="#BD5D15"/>
<circle cx="486.0" cy="1081.70" r="6.7" fill="#BD5D15"/>
<circle cx="712.5" cy="1079.30" r="6.7" fill="#BD5D15"/>
<circle cx="259.6" cy="1140.00" r="6.7" fill="#BD5D15"/>
<circle cx="486.0" cy="1192.50" r="6.7" fill="#BD5D15"/>
<circle cx="712.5" cy="1193.80" r="6.7" fill="#BD5D15"/>
<circle cx="259.6" cy="1176.80" r="6.7" fill="#BD5D15"/>
<circle cx="486.0" cy="1110.30" r="6.7" fill="#BD5D15"/>
<circle cx="712.5" cy="1127.00" r="6.7" fill="#BD5D15"/>
<circle cx="259.6" cy="1194.00" r="6.7" fill="#BD5D15"/>
<circle cx="486.0" cy="1261.20" r="5.8" fill="#fff" stroke="#BD5D15" stroke-width="1.8"/>
<circle cx="712.5" cy="1219.70" r="6.7" fill="#BD5D15"/>
<circle cx="259.6" cy="1205.00" r="6.7" fill="#BD5D15"/>
<circle cx="486.0" cy="959.80" r="6.7" fill="#BD5D15"/>
<circle cx="712.5" cy="1120.40" r="6.7" fill="#BD5D15"/>
<rect x="124.55" y="934.1999999999999" width="723.25" height="345.50" fill="none" stroke="#333" stroke-width="1.6"/>
<line x1="117.25" x2="124.55" y1="999.02" y2="999.02" stroke="#333" stroke-width="2.2"/>
<text x="111.2" y="1006.62" font-size="22" fill="#4D4D4D" stroke="#4D4D4D" text-anchor="end">7.5</text>
<line x1="117.25" x2="124.55" y1="1082.05" y2="1082.05" stroke="#333" stroke-width="2.2"/>
<text x="111.2" y="1089.65" font-size="22" fill="#4D4D4D" stroke="#4D4D4D" text-anchor="end">5.0</text>
<line x1="117.25" x2="124.55" y1="1165.07" y2="1165.07" stroke="#333" stroke-width="2.2"/>
<text x="111.2" y="1172.67" font-size="22" fill="#4D4D4D" stroke="#4D4D4D" text-anchor="end">2.5</text>
<line x1="117.25" x2="124.55" y1="1248.10" y2="1248.10" stroke="#333" stroke-width="2.2"/>
<text x="111.2" y="1255.70" font-size="22" fill="#4D4D4D" stroke="#4D4D4D" text-anchor="end">0.0</text>
<line x1="259.6" x2="259.6" y1="1279.7" y2="1287.00" stroke="#333" stroke-width="2.2"/>
<text x="246.2" y="1307.50" font-size="22" fill="#4D4D4D" stroke="#4D4D4D">S</text>
<path d="M267.45 1307.80 V1292.70 L262.9 1296.90" stroke="#4D4D4D" stroke-width="2.1" fill="none" stroke-linejoin="bevel"/>
<line x1="486.0" x2="486.0" y1="1279.7" y2="1287.00" stroke="#333" stroke-width="2.2"/>
<text x="486.0" y="1307.50" font-size="22" fill="#4D4D4D" stroke="#4D4D4D" text-anchor="middle">S2</text>
<line x1="712.5" x2="712.5" y1="1279.7" y2="1287.00" stroke="#333" stroke-width="2.2"/>
<text x="712.5" y="1307.50" font-size="22" fill="#4D4D4D" stroke="#4D4D4D" text-anchor="middle">S3</text>
<text x="486" y="1338.20" font-size="27" fill="#000" stroke="#000" text-anchor="middle">Session</text>
<text x="840.6" y="960.00" font-size="27" fill="#000" stroke="#000" text-anchor="end" letter-spacing="0.45">ICC= 0.67</text>
<text transform="translate(22.3,1106.95) rotate(-90)" font-size="27" stroke="#000" text-anchor="middle">HC CVR</text>
<text transform="translate(51.0,1240.70) rotate(-90)" font-size="27" stroke="#000">(</text>
<text transform="translate(51.0,1230.80) rotate(-90)" font-size="27" stroke="#000">%</text>
<text transform="translate(51.0,1200.83) rotate(-90) scale(1.23,1)" font-size="27" stroke="#000">Δ</text>
<text transform="translate(51.0,1174.30) rotate(-90)" font-size="27" stroke="#000" letter-spacing="1.3">CBF/</text>
<text transform="translate(51.0,1102.73) rotate(-90) scale(1.23,1)" font-size="27" stroke="#000">Δ</text>
<text transform="translate(51.0,1075.90) rotate(-90)" font-size="27" stroke="#000">P</text>
<text transform="translate(56.3,1056.60) rotate(-90)" font-size="17" stroke="#000">ET</text>
<text transform="translate(51.0,1033.60) rotate(-90)" font-size="27" stroke="#000">C</text>
<text transform="translate(51.0,1012.20) rotate(-90)" font-size="27" stroke="#000">O</text>
<text transform="translate(60.2,991.40) rotate(-90)" font-size="13.7" stroke="#000">2</text>
<text transform="translate(51.0,982.50) rotate(-90)" font-size="27" stroke="#000">)</text>
</g>
</svg></body></html>
